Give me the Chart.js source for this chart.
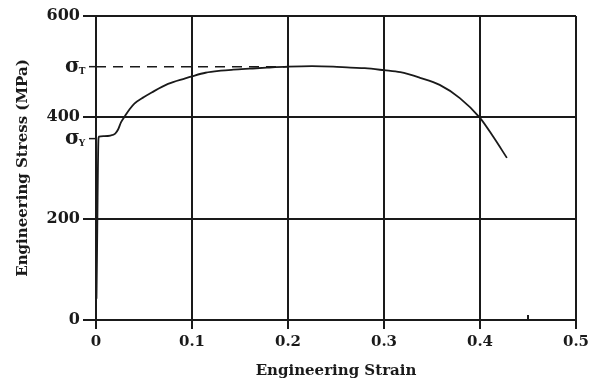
<!DOCTYPE html>
<html>
<head>
<meta charset="utf-8">
<script src="https://cdn.jsdelivr.net/npm/chart.js@4/dist/chart.umd.min.js"></script>
<style>
  html, body { margin: 0; padding: 0; background: #fff; }
  #wrap { width: 601px; height: 380px; }
</style>
</head>
<body>
<div id="wrap"><canvas id="chart"></canvas></div>
<script>
// curve
const strain = [0.0005, 0.001, 0.0015, 0.002, 0.0025, 0.003, 0.008, 0.015, 0.02, 0.023, 0.026, 0.03,
    0.035, 0.04, 0.05, 0.058, 0.075, 0.093, 0.1, 0.114, 0.13, 0.143, 0.16, 0.178, 0.2, 0.225,
    0.247, 0.265, 0.28, 0.3, 0.317, 0.3375, 0.358, 0.379, 0.4, 0.414, 0.428]
const stress = [42, 120, 210, 300, 355, 362, 363, 364, 368, 376, 390, 402,
    416, 427, 440, 449, 466, 477, 481, 488, 492, 494, 496, 498, 500, 501,
    500, 498, 497, 493, 489, 478, 464, 438, 399, 361, 320]

const tensileStrength = 500   // sigma_T
const yieldStrength = 358     // sigma_Y
const dashEndStrain = 0.2

const xTicks = [0, 0.1, 0.2, 0.3, 0.4, 0.5]
const yTicks = [0, 200, 400, 600]
const minorXTicks = [0.45]

const serif = '"DejaVu Serif", "Liberation Serif", serif'
const ink = '#1a1a1a'

const sigmaLabels = [
    {value: tensileStrength, sub: 'T'},
    {value: yieldStrength, sub: 'Y'}
]

// sigma labels next to the y axis, plus the little minor tick on the x axis
const annotations = {
    id: 'annotations',
    afterDraw(chart) {
        const ctx = chart.ctx
        const y = chart.scales.y
        const x = chart.scales.x
        ctx.save()
        ctx.fillStyle = ink
        ctx.strokeStyle = ink
        ctx.textBaseline = 'alphabetic'
        ctx.textAlign = 'left'
        sigmaLabels.forEach(l => {
            const py = y.getPixelForValue(l.value)
            ctx.font = 'bold 20px ' + serif
            ctx.fillText('σ', 65, py + 5)
            const w = ctx.measureText('σ').width
            ctx.font = 'bold 9px ' + serif
            ctx.fillText(l.sub, 65 + w - 1, py + 7)
            ctx.lineWidth = 1.5
            ctx.beginPath()
            ctx.moveTo(89, py)
            ctx.lineTo(x.left, py)
            ctx.stroke()
        })
        minorXTicks.forEach(v => {
            const px = x.getPixelForValue(v)
            ctx.lineWidth = 2
            ctx.beginPath()
            ctx.moveTo(px, y.bottom)
            ctx.lineTo(px, y.bottom - 5)
            ctx.stroke()
        })
        ctx.restore()
    }
}

new Chart(document.getElementById('chart'), {
    type: 'line',
    plugins: [annotations],
    data: {
        datasets: [
            {
                data: strain.map((s, i) => ({x: s, y: stress[i]})),
                borderColor: ink,
                borderWidth: 1.8,
                pointRadius: 0,
                cubicInterpolationMode: 'monotone',
                fill: false
            },
            {
                data: [{x: 0, y: tensileStrength}, {x: dashEndStrain, y: tensileStrength}],
                borderColor: ink,
                borderWidth: 1.5,
                borderDash: [10, 7],
                pointRadius: 0,
                fill: false
            }
        ]
    },
    options: {
        responsive: true,
        maintainAspectRatio: false,
        animation: false,
        layout: {padding: {top: 16, right: 25, bottom: 0, left: 0}},
        plugins: {
            legend: {display: false},
            tooltip: {enabled: false}
        },
        scales: {
            x: {
                type: 'linear',
                min: 0,
                max: 0.5,
                afterBuildTicks(scale) {
                    scale.ticks = xTicks.map(v => ({value: v}))
                },
                afterFit(scale) { scale.height = 60 },
                grid: {color: ink, lineWidth: 2, tickLength: 9, tickColor: ink},
                border: {color: ink, width: 2},
                ticks: {
                    color: ink,
                    padding: 4,
                    maxRotation: 0,
                    font: {family: serif, size: 15, weight: 'bold'},
                    callback: v => String(v)
                },
                title: {
                    display: true,
                    text: 'Engineering Strain',
                    color: ink,
                    padding: {top: 3, bottom: 0},
                    font: {family: serif, size: 15, weight: 'bold'}
                }
            },
            y: {
                min: 0,
                max: 600,
                afterBuildTicks(scale) {
                    scale.ticks = yTicks.map(v => ({value: v}))
                },
                afterFit(scale) { scale.width = 96 },
                grid: {color: ink, lineWidth: 2, tickLength: 13, tickColor: ink},
                border: {color: ink, width: 2},
                ticks: {
                    color: ink,
                    padding: 3,
                    font: {family: serif, size: 16, weight: 'bold'}
                },
                title: {
                    display: true,
                    text: 'Engineering Stress (MPa)',
                    color: ink,
                    padding: {top: 14, bottom: 4},
                    font: {family: serif, size: 15, weight: 'bold'}
                }
            }
        }
    }
})
</script>
</body>
</html>
